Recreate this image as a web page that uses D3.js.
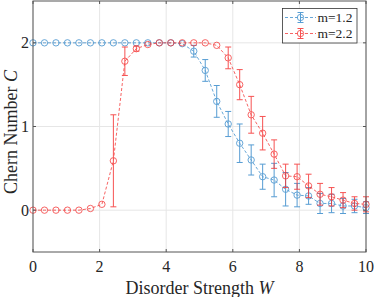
<!DOCTYPE html>
<html><head><meta charset="utf-8">
<script src="https://cdn.jsdelivr.net/npm/d3@7"></script>
<style>body{margin:0;background:#fff}svg{display:block}</style>
</head><body><svg id="c" width="374" height="297"></svg>
<script>
const W = d3.range(30).map(i => i * 10 / 29);
const blueY = [2,2,2,2,2,2,2,2,2,2,2,2,2,1.99,1.90,1.67,1.30,1.03,0.80,0.60,0.40,0.36,0.25,0.18,0.17,0.08,0.08,0.05,0.05,0.03];
const blueErr = [0,0,0,0,0,0,0,0,0,0,0,0,0,0.01,0.07,0.13,0.19,0.15,0.23,0.18,0.15,0.20,0.20,0.14,0.10,0.12,0.11,0.09,0.08,0.07];
const redY = [0,0,0,0,0,0.02,0.07,0.59,1.78,1.93,1.98,2,2,2,2,2,1.97,1.82,1.50,1.14,0.92,0.67,0.41,0.40,0.29,0.19,0.16,0.12,0.08,0.07];
const redErr = [0,0,0,0,0,0.01,0.02,0.55,0.17,0.03,0.01,0,0,0,0,0,0.01,0.13,0.18,0.22,0.20,0.17,0.14,0.15,0.14,0.13,0.11,0.09,0.08,0.09];
const xTicks = [0,2,4,6,8,10];
const yTicks = [0,1,2];
const seriesNames = ["m=1.2","m=2.2"];
const colors = ["#3a8ccc","#f53535"];

const svg = d3.select("#c");
const FONT = "Liberation Serif";
const L=33, R=366, T=1, B=252;
const x = d3.scaleLinear().domain([0,10]).range([L,R]);
const y = d3.scaleLinear().domain([-0.5,2.5]).range([B,T]);

svg.append("g").selectAll("line").data(xTicks).join("line")
  .attr("x1",d=>x(d)).attr("x2",d=>x(d)).attr("y1",T).attr("y2",B)
  .attr("stroke","#e6e6e6").attr("stroke-width",1);
svg.append("g").selectAll("line").data(yTicks).join("line")
  .attr("x1",L).attr("x2",R).attr("y1",d=>y(d)).attr("y2",d=>y(d))
  .attr("stroke","#e6e6e6").attr("stroke-width",1);

const series = [
  {name:seriesNames[0], ys:blueY, es:blueErr, color:colors[0]},
  {name:seriesNames[1], ys:redY, es:redErr, color:colors[1]}
];
const line = d3.line().x(d=>x(d[0])).y(d=>y(d[1]));
series.forEach(s=>{
  const g = svg.append("g").attr("opacity",0.85);
  const pts = W.map((w,i)=>[w,s.ys[i],s.es[i]]);
  g.append("path").attr("d",line(pts)).attr("fill","none").attr("stroke",s.color)
    .attr("stroke-width",0.9).attr("stroke-dasharray","3,2");
  const eb = g.selectAll("g.eb").data(pts.filter(p=>p[2]>0.02)).join("g");
  eb.append("line").attr("x1",d=>x(d[0])).attr("x2",d=>x(d[0]))
    .attr("y1",d=>y(d[1]-d[2])).attr("y2",d=>y(d[1]+d[2])).attr("stroke",s.color).attr("stroke-width",1);
  [-1,1].forEach(sg=>{
    eb.append("line").attr("x1",d=>x(d[0])-3).attr("x2",d=>x(d[0])+3)
      .attr("y1",d=>y(d[1]+sg*d[2])).attr("y2",d=>y(d[1]+sg*d[2])).attr("stroke",s.color).attr("stroke-width",1);
  });
  g.selectAll("circle").data(pts).join("circle")
    .attr("cx",d=>x(d[0])).attr("cy",d=>y(d[1])).attr("r",3.2)
    .attr("fill","none").attr("stroke",s.color).attr("stroke-width",0.9);
});

svg.append("rect").attr("x",L).attr("y",T).attr("width",R-L).attr("height",B-T)
  .attr("fill","none").attr("stroke","#555").attr("stroke-width",1);
const tk = svg.append("g").attr("stroke","#555");
xTicks.forEach(t=>{
  tk.append("line").attr("x1",x(t)).attr("x2",x(t)).attr("y1",B).attr("y2",B-3);
  tk.append("line").attr("x1",x(t)).attr("x2",x(t)).attr("y1",T).attr("y2",T+3);
});
yTicks.forEach(t=>{
  tk.append("line").attr("x1",L).attr("x2",L+3).attr("y1",y(t)).attr("y2",y(t));
  tk.append("line").attr("x1",R).attr("x2",R-3).attr("y1",y(t)).attr("y2",y(t));
});
svg.append("g").selectAll("text").data(xTicks).join("text")
  .style("font-family",FONT)
  .attr("x",d=>x(d)).attr("y",272).attr("text-anchor","middle")
  .attr("font-size",16).attr("fill","#262626").text(d=>d);
svg.append("g").selectAll("text").data(yTicks).join("text")
  .style("font-family",FONT)
  .attr("x",L-4).attr("y",d=>y(d)+5.5).attr("text-anchor","end")
  .attr("font-size",16).attr("fill","#262626").text(d=>d);

const xl = svg.append("text").style("font-family",FONT).attr("x",(L+R)/2).attr("y",294).attr("text-anchor","middle")
  .attr("font-size",18).attr("fill","#262626");
xl.append("tspan").text("Disorder Strength ");
xl.append("tspan").attr("font-style","italic").text("W");
const yl = svg.append("text").style("font-family",FONT).attr("transform",`translate(17,132) rotate(-90)`)
  .attr("text-anchor","middle").attr("font-size",18).attr("fill","#262626");
yl.append("tspan").text("Chern Number ");
yl.append("tspan").attr("font-style","italic").text("C");

const lg = svg.append("g");
lg.append("rect").attr("x",282.5).attr("y",8.5).attr("width",74.5).attr("height",34.5)
  .attr("fill","#fff").attr("stroke","#333").attr("stroke-width",0.8);
series.forEach((s,i)=>{
  const cy = 17.5 + i*16;
  const gg = lg.append("g").attr("opacity",0.85);
  gg.append("line").attr("x1",285).attr("x2",316).attr("y1",cy).attr("y2",cy)
    .attr("stroke",s.color).attr("stroke-dasharray","3,2").attr("stroke-width",0.9);
  gg.append("line").attr("x1",300.5).attr("x2",300.5).attr("y1",cy-5).attr("y2",cy+5).attr("stroke",s.color);
  gg.append("line").attr("x1",297.5).attr("x2",303.5).attr("y1",cy-5).attr("y2",cy-5).attr("stroke",s.color);
  gg.append("line").attr("x1",297.5).attr("x2",303.5).attr("y1",cy+5).attr("y2",cy+5).attr("stroke",s.color);
  gg.append("circle").attr("cx",300.5).attr("cy",cy).attr("r",3.2).attr("fill","none").attr("stroke",s.color).attr("stroke-width",0.9);
  lg.append("text").style("font-family",FONT).attr("x",317.5).attr("y",cy+4.8).attr("font-size",13.5).attr("fill","#262626").text(s.name);
});
</script></body></html>
